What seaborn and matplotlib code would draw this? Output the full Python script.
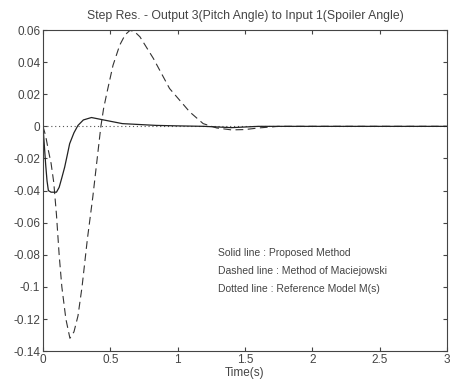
import numpy as np
import matplotlib
matplotlib.use("Agg")
import matplotlib.pyplot as plt
import seaborn as sns

# %% data
t_solid = [0, 0.01, 0.02, 0.03, 0.04, 0.06, 0.08, 0.1, 0.12, 0.14, 0.161, 0.18, 0.198, 0.23, 0.26,
           0.3, 0.36, 0.45, 0.59, 0.84, 1.0, 1.2, 1.4, 1.6, 1.8, 2.0, 2.5, 3.0]
y_solid = [0, -0.012, -0.024, -0.034, -0.04, -0.041, -0.041, -0.041, -0.038, -0.032, -0.0254,
           -0.018, -0.0108, -0.004, 0.0006, 0.004, 0.0055, 0.004, 0.0017, 0.0006, 0.0003, 0.0,
           -0.0008, 0.0, 0.0, 0.0, 0.0, 0.0]

t_dash = [0, 0.02, 0.04, 0.06, 0.08, 0.1, 0.12, 0.14, 0.17, 0.2, 0.23, 0.26, 0.29, 0.33, 0.37,
          0.4, 0.43, 0.45, 0.475, 0.52, 0.57, 0.61, 0.646, 0.68, 0.72, 0.82, 0.94, 1.09, 1.19,
          1.29, 1.4, 1.5, 1.6, 1.75, 2.0, 3.0]
y_dash = [0, -0.006, -0.015, -0.023, -0.035, -0.055, -0.08, -0.1, -0.12, -0.132, -0.128, -0.118,
          -0.1, -0.07, -0.044, -0.022, 0.0, 0.011, 0.021, 0.038, 0.0506, 0.057, 0.0598, 0.059,
          0.0558, 0.0423, 0.0236, 0.009, 0.0017, -0.001, -0.0022, -0.002, -0.001, 0.0, 0.0, 0.0]

t_dot = [0, 3.0]
y_dot = [0, 0]

notes = ["Solid line : Proposed Method",
         "Dashed line : Method of Maciejowski",
         "Dotted line : Reference Model M(s)"]

# %% plot
sns.set_style("white")
plt.rcParams["font.family"] = ["Liberation Sans", "DejaVu Sans"]
fig = plt.figure(figsize=(4.55, 3.85), dpi=100)
ax = fig.add_axes([0.0945, 0.088, 0.8875, 0.834])

sns.lineplot(x=t_dot, y=y_dot, ax=ax, color="#555555", lw=0.8, linestyle=(0, (1, 2.5)))
sns.lineplot(x=t_dash, y=y_dash, ax=ax, color="#333333", lw=0.8, linestyle=(0, (7, 4)))
sns.lineplot(x=t_solid, y=y_solid, ax=ax, color="#222222", lw=0.9)

ax.set_xlim(0, 3)
ax.set_ylim(-0.14, 0.06)
ax.set_xticks(np.arange(0, 3.01, 0.5))
ax.set_xticklabels(["0", "0.5", "1", "1.5", "2", "2.5", "3"])
ax.set_yticks(np.arange(-0.14, 0.061, 0.02))
ax.set_yticklabels(["-0.14", "-0.12", "-0.1", "-0.08", "-0.06", "-0.04", "-0.02", "0",
                    "0.02", "0.04", "0.06"])
ax.tick_params(direction="in", length=3, labelsize=8.5, colors="#444444",
               top=True, right=True, bottom=True, left=True, pad=2)
for s in ax.spines.values():
    s.set_color("#444444")
    s.set_linewidth(0.8)

ax.set_title("Step Res. - Output 3(Pitch Angle) to Input 1(Spoiler Angle)",
             fontsize=8.8, color="#444444", pad=8)
ax.set_xlabel("Time(s)", fontsize=8.5, color="#444444", labelpad=1)

for i, s in enumerate(notes):
    ax.text(1.3, -0.079 - 0.0113 * i, s, fontsize=7.5, color="#444444", va="center")

fig.savefig("out.png", dpi=100)
